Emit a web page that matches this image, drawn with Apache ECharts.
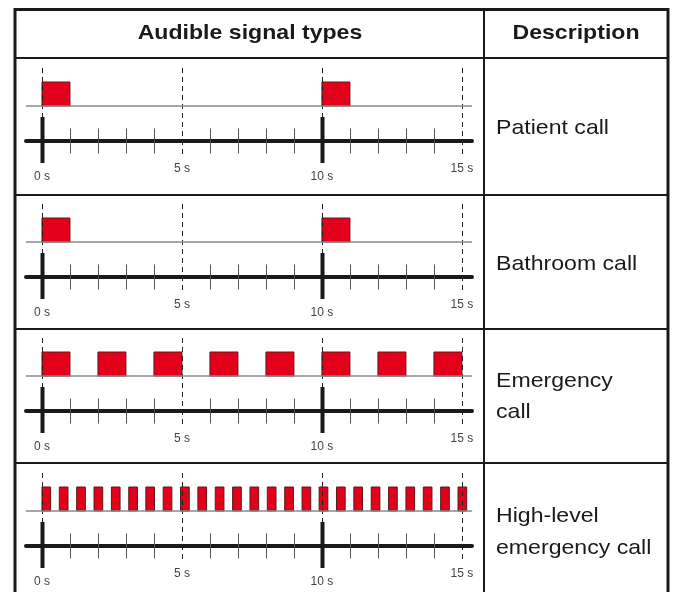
<!DOCTYPE html>
<html>
<head>
<meta charset="utf-8">
<title>Audible signal types</title>
<script src="https://cdn.jsdelivr.net/npm/echarts@6/dist/echarts.min.js"></script>
<style>
  html, body { margin: 0; padding: 0; background: #fff; }
  #chart { width: 673px; height: 592px; }
</style>
</head>
<body>
<div id="chart"></div>
<script>
// time axis (seconds)
const tickValues = [0, 5, 10, 15];
const tickLabels = ["0 s", "5 s", "10 s", "15 s"];
const minorTicks = [1, 2, 3, 4, 6, 7, 8, 9, 11, 12, 13, 14];
const majorTicks = [0, 10];
const guideLines = [0, 5, 10, 15];

// signal pulses [on, off] in seconds
const patientCall = [[0, 1], [10, 11]];
const bathroomCall = [[0, 1], [10, 11]];
const emergencyCall = [[0, 1], [2, 3], [4, 5], [6, 7], [8, 9], [10, 11], [12, 13], [14, 15]];
const highLevelCall = [
  [0, 0.31], [0.62, 0.93], [1.24, 1.55], [1.86, 2.17], [2.48, 2.79],
  [3.1, 3.41], [3.71, 4.02], [4.33, 4.64], [4.95, 5.26], [5.57, 5.88],
  [6.19, 6.5], [6.81, 7.12], [7.43, 7.74], [8.05, 8.36], [8.67, 8.98],
  [9.29, 9.6], [9.9, 10.21], [10.52, 10.83], [11.14, 11.45], [11.76, 12.07],
  [12.38, 12.69], [13, 13.31], [13.62, 13.93], [14.24, 14.55], [14.86, 15.17]
];

const rowNames = [["Patient call"], ["Bathroom call"], ["Emergency", "call"], ["High-level", "emergency call"]];
const rowPulses = [patientCall, bathroomCall, emergencyCall, highLevelCall];

// layout (pixels)
const H = 592;
const axisY = [141, 277, 411, 546];
const rowLines = [58, 195, 329, 463];
const BASE = 35, TOP = 59;   // pulse baseline / top above the axis line

let chart = echarts.init(document.getElementById("chart"));

function pulseItem(params, api) {
  let a = api.coord([api.value(0), BASE]);
  let b = api.coord([api.value(1), TOP]);
  return {
    type: "rect",
    shape: { x: a[0], y: b[1], width: b[0] - a[0], height: a[1] - b[1] },
    style: { fill: "#e2001a", stroke: "#5a1a1a", lineWidth: 1 }
  };
}

function vline(y0, y1, style) {
  return function (params, api) {
    let p0 = api.coord([api.value(0), y0]);
    let p1 = api.coord([api.value(0), y1]);
    return {
      type: "line",
      shape: { x1: Math.round(p0[0]) + 0.5, y1: p0[1], x2: Math.round(p1[0]) + 0.5, y2: p1[1] },
      style: style
    };
  };
}

let grids = [], xAxes = [], yAxes = [], series = [];
axisY.forEach((ay, i) => {
  // grid bottom sits on the time axis line
  grids.push({ left: 26, right: 673 - 472, top: ay - 75, bottom: H - ay });
  xAxes.push({
    gridIndex: i, type: "value", min: -0.57, max: 15.36, position: "bottom",
    axisLine: { show: true, onZero: false, lineStyle: { color: "#1a1a1a", width: 4 } },
    axisTick: { show: false },
    splitLine: { show: false },
    axisLabel: {
      customValues: tickValues,
      margin: 22,
      color: "#444",
      fontSize: 12,
      fontFamily: "Liberation Sans, Arial, sans-serif",
      formatter: (v) => {
        let t = tickLabels[tickValues.indexOf(v)];
        return v % 10 === 0 ? "{lo|" + t + "}" : "{hi|" + t + "}";
      },
      rich: {
        lo: { padding: [8, 0, 0, 0], fontSize: 12, color: "#444" },
        hi: { fontSize: 12, color: "#444" }
      }
    }
  });
  yAxes.push({ gridIndex: i, type: "value", min: 0, max: 75, show: false });

  series.push({
    type: "custom", xAxisIndex: i, yAxisIndex: i, silent: true, z: 3, clip: false,
    renderItem: pulseItem,
    data: rowPulses[i],
    markLine: {
      silent: true, symbol: "none", label: { show: false },
      lineStyle: { color: "#8a8a8a", width: 1.5, type: "solid" },
      data: [{ yAxis: BASE }]
    }
  });
  series.push({
    type: "custom", xAxisIndex: i, yAxisIndex: i, silent: true, z: 4, clip: false,
    renderItem: vline(73, -16, { stroke: "#222", lineWidth: 1, lineDash: [5, 4] }),
    data: guideLines.map(v => [v])
  });
  series.push({
    type: "custom", xAxisIndex: i, yAxisIndex: i, silent: true, z: 4, clip: false,
    renderItem: vline(12.5, -12.5, { stroke: "#555", lineWidth: 1 }),
    data: minorTicks.map(v => [v])
  });
  series.push({
    type: "custom", xAxisIndex: i, yAxisIndex: i, silent: true, z: 5, clip: false,
    renderItem: vline(24, -22, { stroke: "#1a1a1a", lineWidth: 4 }),
    data: majorTicks.map(v => [v])
  });
});

// table frame and texts
let graphics = [];
let frame = { stroke: "#1a1a1a", lineWidth: 3 };
graphics.push({ type: "line", shape: { x1: 15, y1: 9.5, x2: 668, y2: 9.5 }, style: frame });
graphics.push({ type: "line", shape: { x1: 15, y1: 8, x2: 15, y2: 600 }, style: frame });
graphics.push({ type: "line", shape: { x1: 668, y1: 8, x2: 668, y2: 600 }, style: frame });
graphics.push({ type: "line", shape: { x1: 484, y1: 9, x2: 484, y2: 600 }, style: { stroke: "#1a1a1a", lineWidth: 2 } });
rowLines.forEach(y => {
  graphics.push({ type: "line", shape: { x1: 15, y1: y, x2: 668, y2: y }, style: { stroke: "#1a1a1a", lineWidth: 2 } });
});

const font = "Liberation Sans, Arial, sans-serif";
graphics.push({
  type: "text", x: 250, y: 33, scaleX: 1.1,
  style: { text: "Audible signal types", fontFamily: font, fontSize: 21, fontWeight: "bold", fill: "#1a1a1a", align: "center", verticalAlign: "middle" }
});
graphics.push({
  type: "text", x: 576, y: 33, scaleX: 1.1,
  style: { text: "Description", fontFamily: font, fontSize: 21, fontWeight: "bold", fill: "#1a1a1a", align: "center", verticalAlign: "middle" }
});
const nameY = [[128], [264], [381, 412], [516, 548]];
rowNames.forEach((lines, i) => {
  lines.forEach((t, j) => {
    graphics.push({
      type: "text", x: 496, y: nameY[i][j], scaleX: 1.1,
      style: { text: t, fontFamily: font, fontSize: 21, fill: "#1a1a1a", align: "left", verticalAlign: "middle" }
    });
  });
});

chart.setOption({
  animation: false,
  grid: grids,
  xAxis: xAxes,
  yAxis: yAxes,
  series: series,
  graphic: graphics
});

window.addEventListener("resize", () => {
  chart.resize();
});
</script>
</body>
</html>
